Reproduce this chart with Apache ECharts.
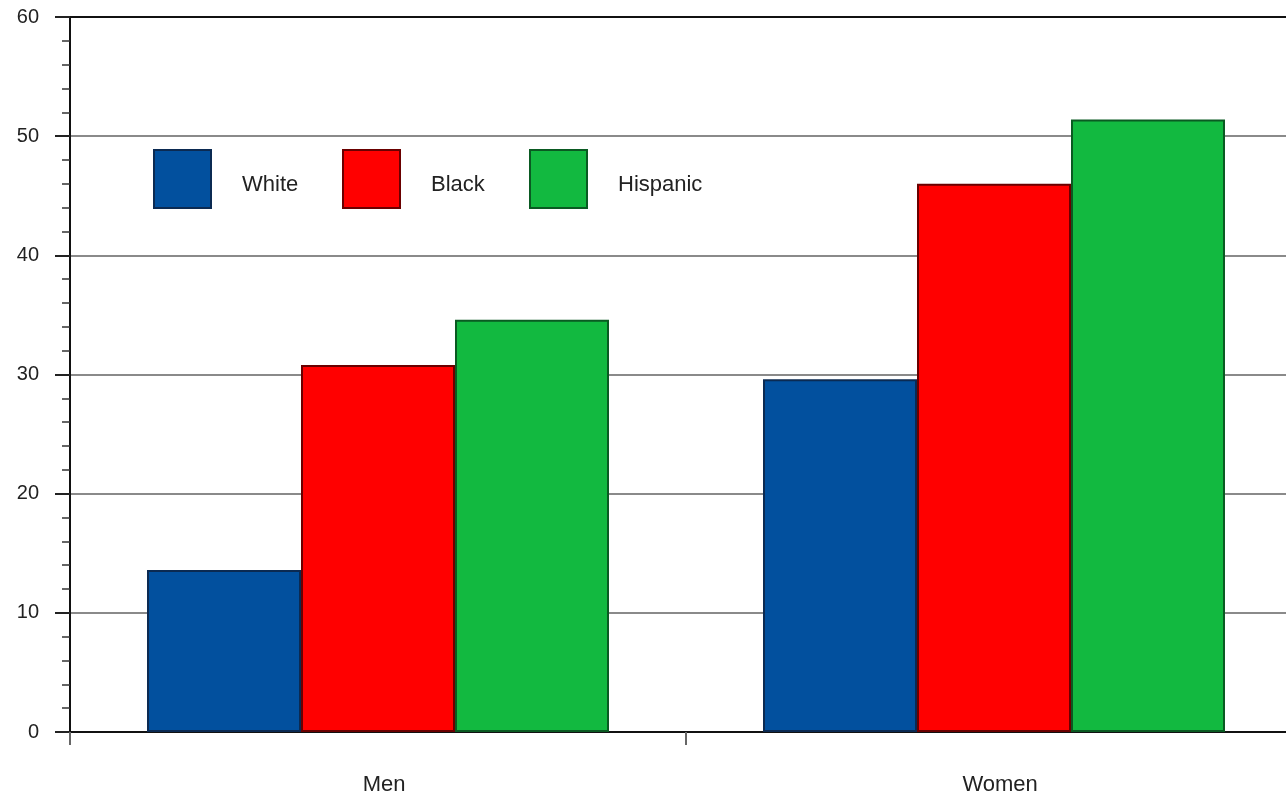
<!DOCTYPE html>
<html>
<head>
<meta charset="utf-8">
<script src="https://cdn.jsdelivr.net/npm/echarts@6/dist/echarts.min.js"></script>
<style>
  html, body { margin: 0; padding: 0; background: #fff; }
  #main { width: 1286px; height: 795px; }
</style>
</head>
<body>
<div id="main"></div>
<script>
// categories and values
const categories = ['Men', 'Women'];
const seriesNames = ['White', 'Black', 'Hispanic'];
const white = [13.6, 29.6];
const black = [30.8, 46.0];
const hispanic = [34.6, 51.4];
const yTicks = [0, 10, 20, 30, 40, 50, 60];

const colors = ['#02509e', '#ff0000', '#12b940'];
const borders = ['#0b2a52', '#6a0000', '#0a5a22'];
const font = 'Liberation Sans, Arial, sans-serif';

const chart = echarts.init(document.getElementById('main'));

// one legend per item so each box sits where it does in the picture
const legendLeft = [153, 342, 529];
const legends = seriesNames.map((n, i) => ({
  data: [n],
  left: legendLeft[i],
  top: 149,
  padding: 0,
  orient: 'horizontal',
  itemWidth: 57,
  itemHeight: 58,
  icon: 'rect',
  selectedMode: false,
  formatter: name => '{t|' + name + '}',
  textStyle: {
    fontFamily: font,
    fontSize: 22,
    color: '#222',
    padding: [0, 0, 0, 26],
    rich: {
      t: {
        fontFamily: font,
        fontSize: 22,
        color: '#222',
        padding: [12, 0, 0, 0]
      }
    }
  }
}));

const values = [white, black, hispanic];
const series = seriesNames.map((n, i) => ({
  name: n,
  type: 'bar',
  data: values[i],
  barGap: 0,
  barCategoryGap: '25%',
  itemStyle: {
    color: colors[i],
    borderColor: borders[i],
    borderWidth: 2
  },
  emphasis: { disabled: true }
}));

chart.setOption({
  animation: false,
  color: colors,
  legend: legends,
  grid: {
    left: 70,
    top: 17,
    right: -16,
    bottom: 63,
    outerBoundsMode: 'none',
    containLabel: false,
    show: true,
    borderColor: '#111',
    borderWidth: 2,
    backgroundColor: 'transparent'
  },
  xAxis: {
    type: 'category',
    data: categories,
    axisLine: { show: true, lineStyle: { color: '#111', width: 2 } },
    axisTick: { show: true, length: 13, lineStyle: { color: '#666', width: 2 } },
    axisLabel: {
      margin: 42,
      fontFamily: font,
      fontSize: 22,
      color: '#222',
      formatter: v => '  ' + v
    }
  },
  yAxis: {
    type: 'value',
    min: yTicks[0],
    max: yTicks[yTicks.length - 1],
    interval: 10,
    axisLine: { show: true, lineStyle: { color: '#111', width: 2 } },
    axisTick: { show: true, length: 15, lineStyle: { color: '#222', width: 2 } },
    minorTick: { show: true, splitNumber: 5, length: 8, lineStyle: { color: '#333', width: 1.5 } },
    axisLabel: {
      margin: 31,
      fontFamily: font,
      fontSize: 20,
      color: '#222'
    },
    splitLine: { show: true, showMaxLine: false, lineStyle: { color: '#8a8a8a', width: 2 } }
  },
  series: series
});
</script>
</body>
</html>
